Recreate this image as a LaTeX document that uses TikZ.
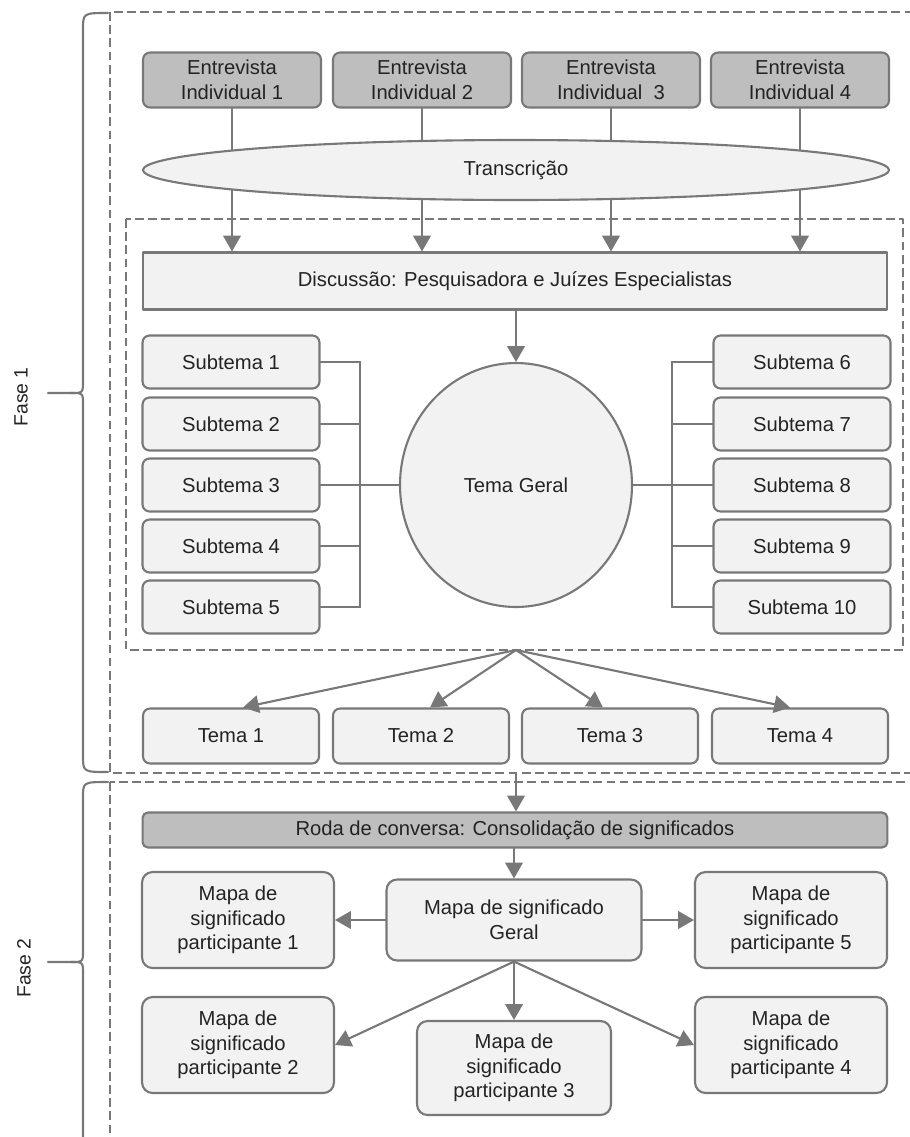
\documentclass[tikz,border=0pt]{standalone}
\usepackage{fontspec}
\setmainfont{Liberation Sans}
\usetikzlibrary{arrows.meta,shapes.geometric}
\definecolor{linegray}{RGB}{120,120,120}
\definecolor{darkfill}{RGB}{190,190,190}
\definecolor{lightfill}{RGB}{242,242,242}
\definecolor{txtgray}{RGB}{35,35,35}
\tikzset{
  base/.style={draw=linegray,line width=1.2pt,align=center,inner sep=0pt,text=txtgray,
    font=\fontsize{11.5}{14}\selectfont},
  entbox/.style={base,fill=darkfill,rounded corners=4pt,minimum width=3.56cm,minimum height=1.1cm},
  subbox/.style={base,fill=lightfill,rounded corners=4pt,minimum width=3.54cm,minimum height=1.06cm},
  mapbox/.style={base,fill=lightfill,rounded corners=6pt,minimum width=3.84cm,minimum height=1.92cm},
  conn/.style={draw=linegray,line width=1.2pt},
  phasebox/.style={draw=linegray,line width=1.2pt,line cap=butt,dash pattern=on 5pt off 2.5pt},
  phaselabel/.style={rotate=90,text=txtgray,font=\fontsize{11}{13}\selectfont}
}
\begin{document}
\begin{tikzpicture}[line cap=round,line join=round,>={Triangle[length=9pt,width=10pt]},x=0.02cm,y=-0.02cm]
  \useasboundingbox (0,0) rectangle (910,1137);
  \clip (0,0) rectangle (910,1137);
  % fases
  \draw[phasebox] (110,12) rectangle (930,773);
  \draw[phasebox] (110,782) rectangle (930,1170);
  \draw[phasebox] (126,219) rectangle (903,650);
  \draw[conn] (108,13) .. controls (83,13) .. (83,30) -- (83,381) .. controls (83,393) .. (71,393) -- (48,393);
  \draw[conn] (71,393) .. controls (83,393) .. (83,405) -- (83,755) .. controls (83,772) .. (108,772);
  \draw[conn] (108,782) .. controls (83,782) .. (83,798) -- (83,950) .. controls (83,962) .. (71,962) -- (48,962);
  \draw[conn] (71,962) .. controls (83,962) .. (83,974) -- (83,1140);
  \node[phaselabel] (fase1) at (21,397) {Fase 1};
  \node[phaselabel] (fase2) at (24,968) {Fase 2};
  % entrevistas
  \node[entbox] (e1) at (232,80) {Entrevista\\Individual 1};
  \node[entbox] (e2) at (422,80) {Entrevista\\Individual 2};
  \node[entbox] (e3) at (611,80) {Entrevista\\Individual \ 3};
  \node[entbox] (e4) at (800,80) {Entrevista\\Individual 4};
  \node[base,fill=lightfill,minimum width=14.9cm,minimum height=1.14cm] (disc) at (515,281) {Discussão: Pesquisadora e Juízes Especialistas};
  \foreach \i in {1,...,4}
    \draw[conn,->] (e\i.south) -- (e\i.south |- disc.north);
  \node[base,ellipse,fill=lightfill,minimum width=14.92cm,minimum height=1.2cm] (trans) at (516,170) {Transcrição};
  % tema geral e subtemas
  \node[base,ellipse,fill=lightfill,minimum width=4.64cm,minimum height=4.88cm] (tg) at (516,485) {Tema Geral};
  \draw[conn,->] (disc.south -| tg.north) -- (tg.north);
  \foreach \i/\y in {1/362,2/424,3/485,4/546,5/607}
    \node[subbox] (s\i) at (231,\y) {Subtema \i};
  \foreach \i/\y in {6/362,7/424,8/485,9/546,10/607}
    \node[subbox] (s\i) at (802,\y) {Subtema \i};
  \coordinate (lbus) at (360,485);
  \coordinate (rbus) at (672,485);
  \foreach \i in {1,...,5}
    \draw[conn] (s\i.east) -- (s\i.east -| lbus);
  \foreach \i in {6,...,10}
    \draw[conn] (s\i.west) -- (s\i.west -| rbus);
  \draw[conn] (s1.east -| lbus) -- (s5.east -| lbus);
  \draw[conn] (s6.west -| rbus) -- (s10.west -| rbus);
  \draw[conn,line width=1.6pt] (tg.west) -- (lbus);
  \draw[conn,line width=1.6pt] (tg.east) -- (rbus);
  % temas
  \coordinate (split) at (516,650);
  \foreach \i/\x in {1/231,2/421,3/610,4/800}
    \node[subbox,minimum width=3.52cm,minimum height=1.1cm] (t\i) at (\x,736) {Tema \i};
  \draw[conn,->] (split) -- ([xshift=0.24cm]t1.north);
  \draw[conn,->] (split) -- ([xshift=0.18cm]t2.north);
  \draw[conn,->] (split) -- ([xshift=-0.14cm]t3.north);
  \draw[conn,->] (split) -- ([xshift=-0.2cm]t4.north);
  % fase 2
  \coordinate (fim1) at (516,773);
  \node[base,fill=darkfill,rounded corners=3pt,minimum width=14.9cm,minimum height=0.7cm] (roda) at (515,830) {Roda de conversa: Consolidação de significados};
  \draw[conn,->] (fim1) -- (fim1 |- roda.north);
  \node[base,fill=lightfill,rounded corners=6pt,minimum width=5.1cm,minimum height=1.62cm] (geral) at (514,920) {Mapa de significado\\Geral};
  \draw[conn,->] (roda.south -| geral.north) -- (geral.north);
  \node[mapbox] (p1) at (238,920) {Mapa de\\significado\\participante 1};
  \node[mapbox] (p5) at (791,920) {Mapa de\\significado\\participante 5};
  \node[mapbox] (p2) at (238,1045) {Mapa de\\significado\\participante 2};
  \node[mapbox] (p4) at (791,1045) {Mapa de\\significado\\participante 4};
  \node[mapbox,minimum width=3.88cm,minimum height=1.88cm] (p3) at (514,1068) {Mapa de\\significado\\participante 3};
  \draw[conn,->] (geral.west) -- (p1.east);
  \draw[conn,->] (geral.east) -- (p5.west);
  \draw[conn,->] (geral.south) -- (p3.north);
  \draw[conn,->] (geral.south) -- (p2.east);
  \draw[conn,->] (geral.south) -- (p4.west);
\end{tikzpicture}
\end{document}
